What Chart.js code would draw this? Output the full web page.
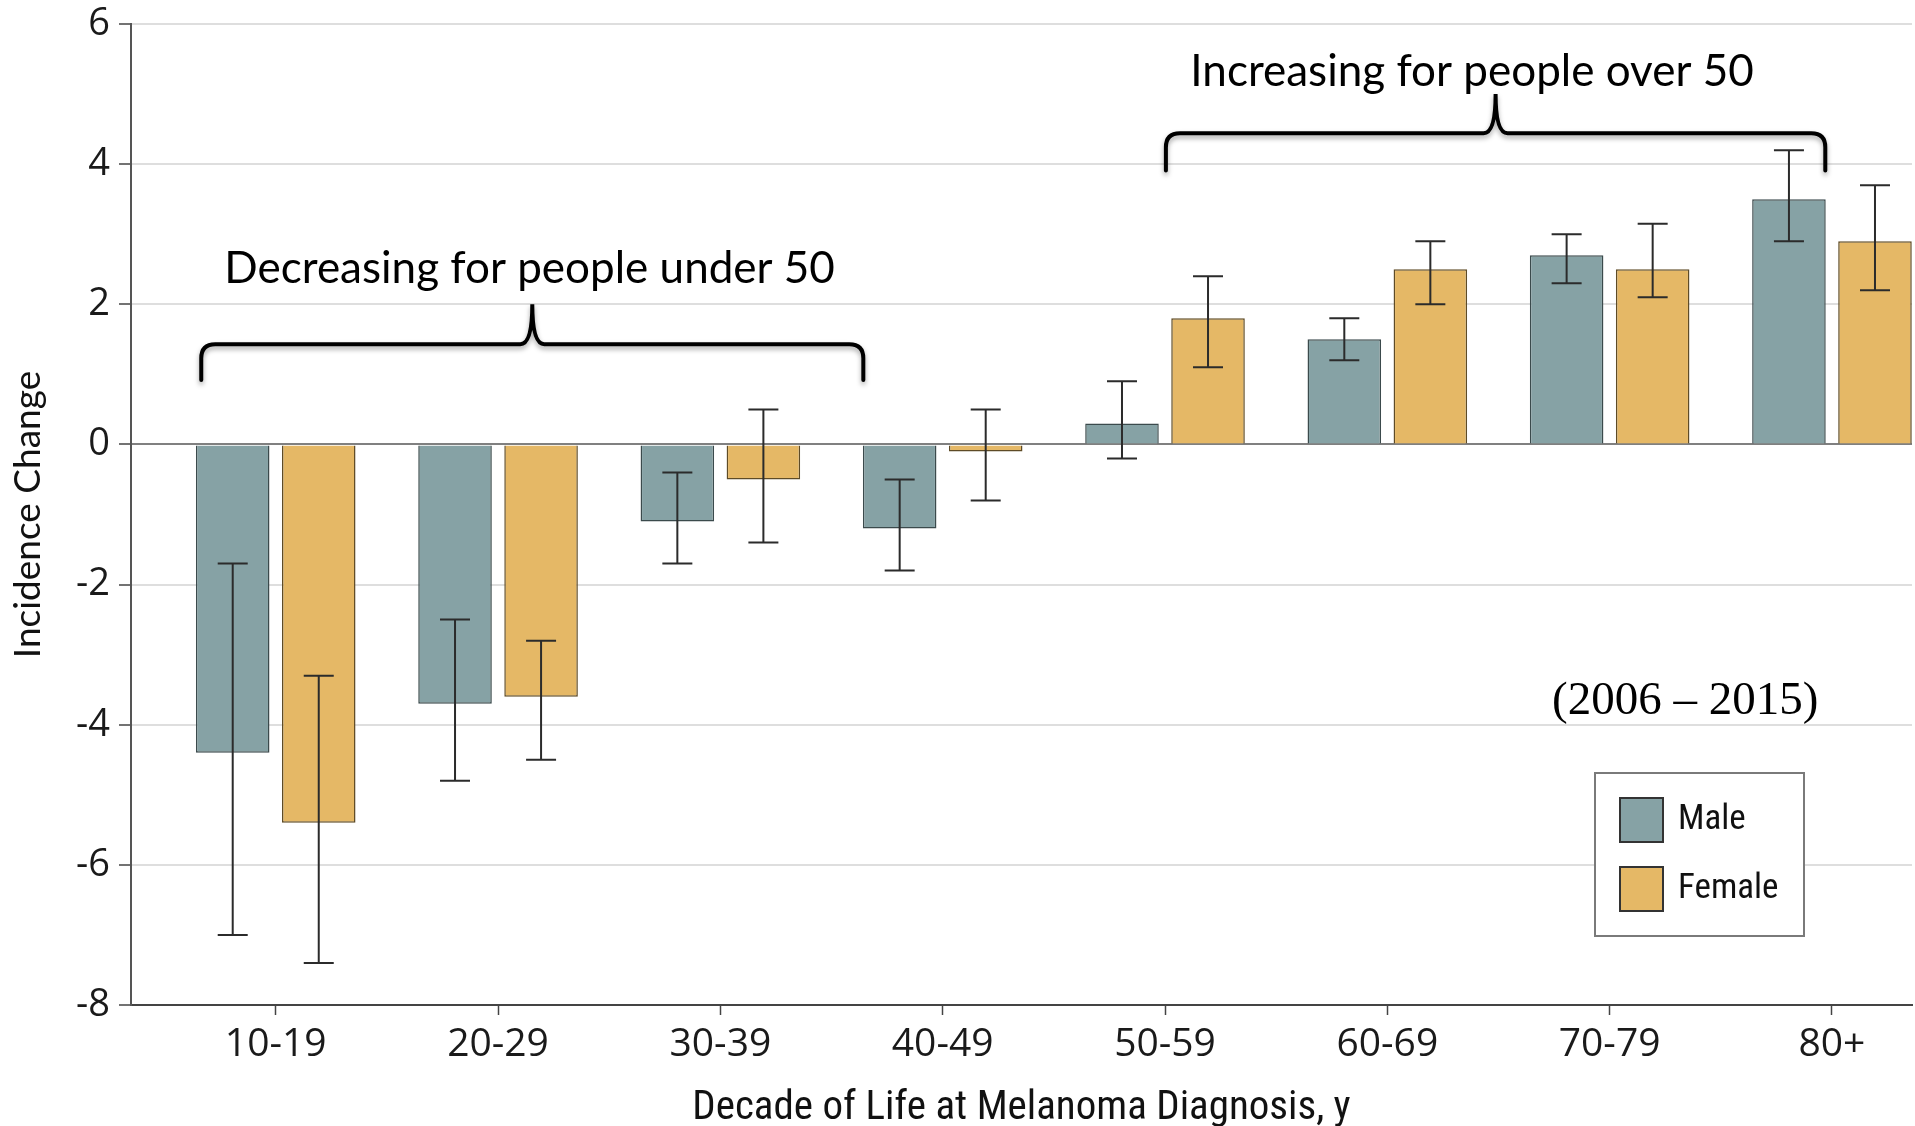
<!DOCTYPE html>
<html>
<head>
<meta charset="utf-8">
<title>Melanoma incidence change by decade of life</title>
<script src="https://cdn.jsdelivr.net/npm/chart.js@4.4.1/dist/chart.umd.min.js"></script>
<style>
  html, body { margin: 0; padding: 0; background: #fff; }
  #wrap { width: 1915px; height: 1126px; }
</style>
</head>
<body>
<div id="wrap"><canvas id="incidenceChart" width="1915" height="1126"></canvas></div>
<script>
// Data
const categories = ['10-19', '20-29', '30-39', '40-49', '50-59', '60-69', '70-79', '80+'];
const maleChange = [-4.4, -3.7, -1.1, -1.2, 0.3, 1.5, 2.7, 3.5];
const maleLow = [-7.0, -4.8, -1.7, -1.8, -0.2, 1.2, 2.3, 2.9];
const maleHigh = [-1.7, -2.5, -0.4, -0.5, 0.9, 1.8, 3.0, 4.2];
const femaleChange = [-5.4, -3.6, -0.5, -0.1, 1.8, 2.5, 2.5, 2.9];
const femaleLow = [-7.4, -4.5, -1.4, -0.8, 1.1, 2.0, 2.1, 2.2];
const femaleHigh = [-3.3, -2.8, 0.5, 0.5, 2.4, 2.9, 3.15, 3.7];
const yTicks = [-8, -6, -4, -2, 0, 2, 4, 6];

// Annotations (placed in data units so they follow the scales)
const braces = [
    { x1: -0.335, x2: 2.643, base: 1.43, end: 0.92, tip: 2.0 },
    { x1: 4.004, x2: 6.97, base: 4.44, end: 3.91, tip: 5.0 }
];
const notes = [
    { text: 'Decreasing for people under 50', x: 1.142, y: 2.31 },
    { text: 'Increasing for people over 50', x: 5.381, y: 5.11 }
];

const tickFont = { family: '"Open Sans", sans-serif', size: 39 };
const narrowFont = '"Liberation Sans Narrow", "Roboto Condensed", "Arial Narrow", sans-serif';

// error bars drawn on top of the bars
const errorBars = {
    id: 'errorBars',
    afterDatasetsDraw(chart) {
        const ctx = chart.ctx;
        const y = chart.scales.y;
        ctx.save();
        ctx.strokeStyle = '#2b2b2b';
        ctx.lineWidth = 2;
        chart.data.datasets.forEach((ds, di) => {
            const meta = chart.getDatasetMeta(di);
            meta.data.forEach((bar, i) => {
                const top = y.getPixelForValue(ds.errHigh[i]);
                const bottom = y.getPixelForValue(ds.errLow[i]);
                const x = bar.x;
                ctx.beginPath();
                ctx.moveTo(x, top); ctx.lineTo(x, bottom);
                ctx.moveTo(x - 15, top); ctx.lineTo(x + 15, top);
                ctx.moveTo(x - 15, bottom); ctx.lineTo(x + 15, bottom);
                ctx.stroke();
            });
        });
        ctx.restore();
    }
};

// braces, notes, year range and the boxed legend
const extras = {
    id: 'extras',
    afterDraw(chart) {
        const ctx = chart.ctx;
        const xs = chart.scales.x;
        const ys = chart.scales.y;
        ctx.save();

        // curly braces
        braces.forEach(b => {
            const x1 = xs.getPixelForValue(b.x1);
            const x2 = xs.getPixelForValue(b.x2);
            const xm = (x1 + x2) / 2;
            const yb = ys.getPixelForValue(b.base);
            const ye = ys.getPixelForValue(b.end);
            const yt = ys.getPixelForValue(b.tip);
            const r = 14;
            ctx.save();
            ctx.shadowColor = 'rgba(0,0,0,0.35)';
            ctx.shadowBlur = 5;
            ctx.shadowOffsetY = 3;
            ctx.strokeStyle = '#000';
            ctx.lineWidth = 4;
            ctx.lineCap = 'round';
            ctx.beginPath();
            ctx.moveTo(x1, ye);
            ctx.lineTo(x1, yb + r);
            ctx.quadraticCurveTo(x1, yb, x1 + r, yb);
            ctx.lineTo(xm - 12, yb);
            ctx.quadraticCurveTo(xm, yb, xm, yt);
            ctx.quadraticCurveTo(xm, yb, xm + 12, yb);
            ctx.lineTo(x2 - r, yb);
            ctx.quadraticCurveTo(x2, yb, x2, yb + r);
            ctx.lineTo(x2, ye);
            ctx.stroke();
            ctx.restore();
        });

        ctx.fillStyle = '#000';
        ctx.font = '44px Lato, "Open Sans", sans-serif';
        ctx.textAlign = 'center';
        ctx.textBaseline = 'alphabetic';
        notes.forEach(n => {
            ctx.fillText(n.text, xs.getPixelForValue(n.x), ys.getPixelForValue(n.y));
        });

        ctx.font = '47px "Liberation Serif", "Times New Roman", serif';
        ctx.textAlign = 'left';
        ctx.fillText('(2006 \u2013 2015)', xs.getPixelForValue(5.741), ys.getPixelForValue(-3.85));

        // legend box
        const lx = 1595, ly = 773, lw = 209, lh = 163;
        ctx.fillStyle = '#fff';
        ctx.fillRect(lx, ly, lw, lh);
        ctx.strokeStyle = '#7a7a7a';
        ctx.lineWidth = 2;
        ctx.strokeRect(lx, ly, lw, lh);
        chart.data.datasets.forEach((ds, i) => {
            const sy = 798 + i * 69;
            ctx.fillStyle = ds.backgroundColor;
            ctx.fillRect(1620, sy, 43, 44);
            ctx.strokeStyle = '#333';
            ctx.lineWidth = 2;
            ctx.strokeRect(1620, sy, 43, 44);
            ctx.fillStyle = '#111';
            ctx.font = '35px ' + narrowFont;
            ctx.textBaseline = 'middle';
            ctx.fillText(ds.label, 1678, sy + 22);
        });
        ctx.restore();
    }
};

const ctx = document.getElementById('incidenceChart').getContext('2d');
const incidenceChart = new Chart(ctx, {
    type: 'bar',
    data: {
        datasets: [{
            label: 'Male',
            data: maleChange.map((v, i) => ({ x: i, y: v })),
            errLow: maleLow,
            errHigh: maleHigh,
            backgroundColor: '#86a2a5',
            borderColor: '#3b4a4c',
            borderWidth: 1.5
        }, {
            label: 'Female',
            data: femaleChange.map((v, i) => ({ x: i, y: v })),
            errLow: femaleLow,
            errHigh: femaleHigh,
            backgroundColor: '#e5b866',
            borderColor: '#5e4b26',
            borderWidth: 1.5
        }]
    },
    options: {
        responsive: false,
        animation: false,
        devicePixelRatio: 1,
        categoryPercentage: 0.774,
        barPercentage: 0.855,
        layout: { padding: { top: 24, right: 3, left: 0, bottom: 0 } },
        plugins: {
            legend: { display: false },
            tooltip: { enabled: false }
        },
        scales: {
            x: {
                type: 'linear',
                min: -0.651,
                max: 7.36,
                offset: false,
                afterFit: (scale) => { scale.height = 121; },
                border: { color: '#444', width: 2 },
                grid: { offset: false, drawOnChartArea: false, drawTicks: true, tickLength: 10, tickColor: '#444', tickWidth: 1.5 },
                ticks: {
                    stepSize: 1,
                    includeBounds: false,
                    autoSkip: false,
                    maxRotation: 0,
                    padding: 6,
                    color: '#1a1a1a',
                    font: tickFont,
                    callback: (v) => (Number.isInteger(v) && categories[v]) ? categories[v] : ''
                },
                title: {
                    display: true,
                    text: 'Decade of Life at Melanoma Diagnosis, y',
                    color: '#111',
                    font: { family: narrowFont, size: 41 },
                    padding: { top: 0, bottom: -7 }
                }
            },
            y: {
                min: yTicks[0],
                max: yTicks[yTicks.length - 1],
                afterFit: (scale) => {
                    scale.width = 131;
                    scale.paddingTop = 0;
                    scale.paddingBottom = 0;
                },
                afterBuildTicks: (scale) => { scale.ticks = yTicks.map(v => ({ value: v })); },
                border: { color: '#555', width: 2 },
                grid: {
                    color: (c) => (c.tick && c.tick.value === 0) ? '#808080' : '#dedede',
                    lineWidth: 2,
                    tickLength: 12,
                    tickColor: '#444',
                    tickWidth: 1.5
                },
                ticks: {
                    padding: 9,
                    color: '#1a1a1a',
                    font: { family: '"Open Sans", sans-serif', size: 38 }
                },
                title: {
                    display: true,
                    text: 'Incidence Change',
                    color: '#111',
                    font: { family: 'Lato, "Open Sans", sans-serif', size: 37 },
                    padding: { top: 6, bottom: 0 }
                }
            }
        }
    },
    plugins: [errorBars, extras]
});
</script>
</body>
</html>
